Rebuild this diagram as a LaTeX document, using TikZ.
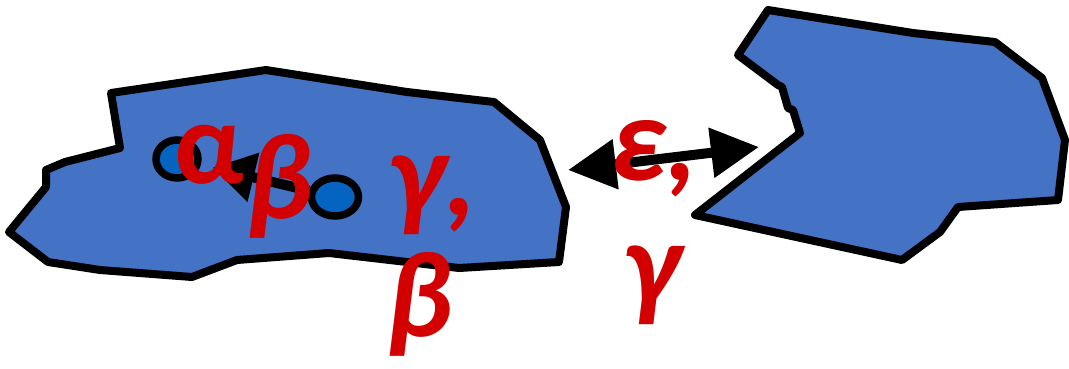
\documentclass[tikz,border=0pt]{standalone}
\usepackage{fontspec}
\setmainfont{Carlito}
\usetikzlibrary{arrows.meta,shapes.geometric}
\definecolor{polyblue}{RGB}{68,114,196}
\definecolor{dotblue}{RGB}{5,99,193}
\definecolor{lblred}{RGB}{210,0,0}
\tikzset{
  region/.style={fill=polyblue, draw=black, line width=8pt, line join=round},
  dot/.style={ellipse, fill=dotblue, draw=black, line width=7.5pt, inner sep=0pt},
  lbl/.style={text=lblred, inner sep=0pt, anchor=base, font=\fontsize{122}{128}\selectfont\bfseries\itshape},
  ulbl/.style={lbl, font=\fontsize{118}{124}\selectfont\bfseries\upshape},
  bigarrow/.style={line width=10pt, {Triangle[length=48pt,width=48pt]}-{Triangle[length=48pt,width=48pt]}},
  smallarrow/.style={line width=10pt, shorten >=12pt, -{Triangle[length=42pt,width=48pt]}}
}
\begin{document}
\begin{tikzpicture}[x=1pt,y=-1pt]
\useasboundingbox (0,0) rectangle (1069,368);
% left region
\draw[region] (111,93) -- (266,70) -- (407,92) -- (494,102) -- (540,140) -- (566,207) -- (559,262) -- (459,268) -- (329,253) -- (237,260) -- (192,277) -- (100,270) -- (48,262) -- (9,232) -- (46,187) -- (46,170) -- (65,162) -- (120,148) -- cycle;
% right region
\draw[region] (768,10) -- (913,33) -- (995,42) -- (1042,78) -- (1065,140) -- (1058,200) -- (958,207) -- (940,232) -- (902,260) -- (695,215) -- (800,133) -- (793,110) -- (788,108) -- (782,87) -- (778,85) -- (738,55) -- cycle;
% dots
\node[dot, minimum width=42pt, minimum height=38pt] (c1) at (177,159) {};
\node[dot, minimum width=47pt, minimum height=38pt] (c2) at (335,197) {};
\draw[smallarrow] (c2) -- (c1);
% double arrow
\coordinate (dl) at (568,170);
\coordinate (dr) at (759,147);
\draw[bigarrow] (dl) -- (dr);
% labels
\node[ulbl] (a) at (209,183) {α};
\node[lbl] (b1) at (280,218) {β};
\node[lbl] (g1) at (433,215) {γ,};
\node[lbl] (b2) at (420,336) {β};
\node[lbl] (e) at (654,180) {ε,};
\node[lbl] (g2) at (652,305) {γ};
\end{tikzpicture}
\end{document}
